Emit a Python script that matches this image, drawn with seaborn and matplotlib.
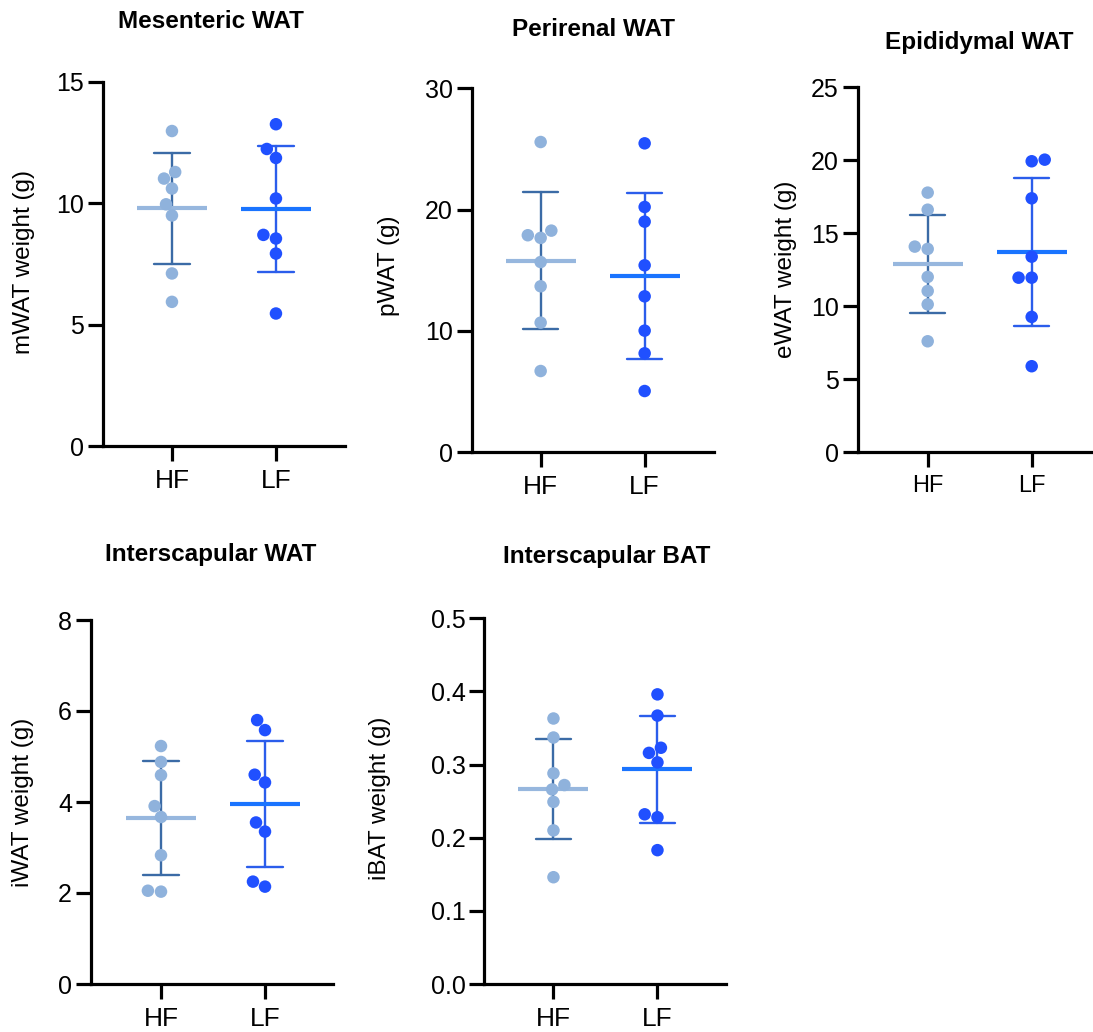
import numpy as np
import pandas as pd
import matplotlib
matplotlib.use("Agg")
import matplotlib.pyplot as plt
import seaborn as sns

sns.set_theme(style="ticks")
plt.rcParams['font.family'] = ['Liberation Sans', 'DejaVu Sans']
plt.rcParams['text.color'] = 'black'
plt.rcParams['axes.labelcolor'] = 'black'
plt.rcParams['xtick.color'] = 'black'
plt.rcParams['ytick.color'] = 'black'

# ---------------- data ----------------
groups = ["HF", "LF"]

mwat_hf = [12.98, 11.29, 11.02, 10.61, 9.96, 9.50, 7.11, 5.94]
mwat_lf = [13.26, 12.24, 11.87, 10.20, 8.70, 8.55, 7.93, 5.46]
pwat_hf = [25.57, 18.26, 17.88, 17.66, 15.67, 13.67, 10.67, 6.68]
pwat_lf = [25.46, 20.21, 19.00, 15.40, 12.84, 10.01, 8.14, 5.03]
ewat_hf = [17.78, 16.61, 14.08, 13.92, 12.00, 11.04, 10.12, 7.59]
ewat_lf = [20.04, 19.93, 17.39, 13.39, 11.95, 11.95, 9.26, 5.88]
iwat_hf = [5.23, 4.88, 4.59, 3.91, 3.67, 2.83, 2.05, 2.03]
iwat_lf = [5.80, 5.58, 4.60, 4.43, 3.55, 3.35, 2.25, 2.14]
ibat_hf = [0.363, 0.337, 0.288, 0.272, 0.266, 0.249, 0.210, 0.146]
ibat_lf = [0.396, 0.367, 0.323, 0.316, 0.303, 0.232, 0.228, 0.183]

titles = ["Mesenteric WAT", "Perirenal WAT", "Epididymal WAT",
          "Interscapular WAT", "Interscapular BAT"]
ylabels = ["mWAT weight (g)", "pWAT (g)", "eWAT weight (g)",
           "iWAT weight (g)", "iBAT weight (g)"]
yticks = [[0, 5, 10, 15], [0, 10, 20, 30], [0, 5, 10, 15, 20, 25],
          [0, 2, 4, 6, 8], [0.0, 0.1, 0.2, 0.3, 0.4, 0.5]]
series = [(mwat_hf, mwat_lf), (pwat_hf, pwat_lf), (ewat_hf, ewat_lf),
          (iwat_hf, iwat_lf), (ibat_hf, ibat_lf)]

point_colors = {"HF": "#8fb2dc", "LF": "#2050ff"}
mean_colors = {"HF": "#97b7de", "LF": "#1a74ff"}
err_colors = {"HF": "#3b6ba6", "LF": "#2b5deb"}

# ---------------- layout (pixels) ----------------
W, H = 1093, 1032
# left, top, bottom, xleft-limit
layout = [
    (103.0, 82.0, 446.0, -0.663),
    (471.7, 88.3, 452.0, -0.663),
    (857.7, 87.3, 452.0, -0.673),
    (90.7, 620.0, 984.0, -0.676),
    (484.3, 618.3, 984.0, -0.665),
]
axw = 242.0
title_pos = [(210.5, 22), (593, 30), (979, 42), (211, 555), (607, 556)]
ylabel_pos = [(24, 262), (389, 266), (786, 269), (23, 802), (380, 798)]
xtick_size = [19, 19, 17, 19, 19]

fig = plt.figure(figsize=(W / 100, H / 100), dpi=100)

for i in range(5):
    left, top, bottom, xl = layout[i]
    ax = fig.add_axes([left / W, 1 - bottom / H, axw / W, (bottom - top) / H])
    hf, lf = series[i]
    df = pd.DataFrame({
        "group": ["HF"] * len(hf) + ["LF"] * len(lf),
        "value": list(hf) + list(lf),
    })

    sns.swarmplot(data=df, x="group", y="value", hue="group", order=groups,
                  hue_order=groups, palette=point_colors, size=9, ax=ax,
                  legend=False, zorder=3, linewidth=0)
    sns.pointplot(data=df, x="group", y="value", hue="group", order=groups,
                  hue_order=groups, palette=err_colors, errorbar="sd",
                  capsize=0.34, linestyle="none", marker="", ax=ax,
                  legend=False, err_kws={"linewidth": 1.7, "zorder": 2})
    sns.pointplot(data=df, x="group", y="value", hue="group", order=groups,
                  hue_order=groups, palette=mean_colors, errorbar=None,
                  linestyle="none", marker="_", markersize=50,
                  markeredgewidth=3.0, ax=ax, legend=False)

    ax.set_xlim(xl, xl + axw / 104.0)
    yt = yticks[i]
    ax.set_ylim(yt[0], yt[-1])
    ax.set_yticks(yt)
    if i == 4:
        ax.set_yticklabels([f"{v:.1f}" for v in yt])
    ax.set_xlabel("")
    ax.set_ylabel("")
    for s in ["top", "right"]:
        ax.spines[s].set_visible(False)
    for s in ["left", "bottom"]:
        ax.spines[s].set_linewidth(2.3)
        ax.spines[s].set_color("black")
    ax.tick_params(axis="y", direction="out", length=10.5, width=2.3,
                   labelsize=18, pad=3, color="black", labelcolor="black")
    ax.tick_params(axis="x", direction="out", length=10.5, width=2.3,
                   labelsize=xtick_size[i], pad=6, color="black",
                   labelcolor="black")
    for sp in ax.spines.values():
        sp.set_clip_on(False)

    tx, ty = title_pos[i]
    fig.text(tx / W, 1 - ty / H, titles[i], ha="center", va="center",
             fontsize=17.5, fontweight="bold", color="black")
    lx, ly = ylabel_pos[i]
    fig.text(lx / W, 1 - ly / H, ylabels[i], ha="center", va="center",
             rotation=90, fontsize=17.5, color="black")

fig.savefig("out.png", dpi=100, facecolor="white")
